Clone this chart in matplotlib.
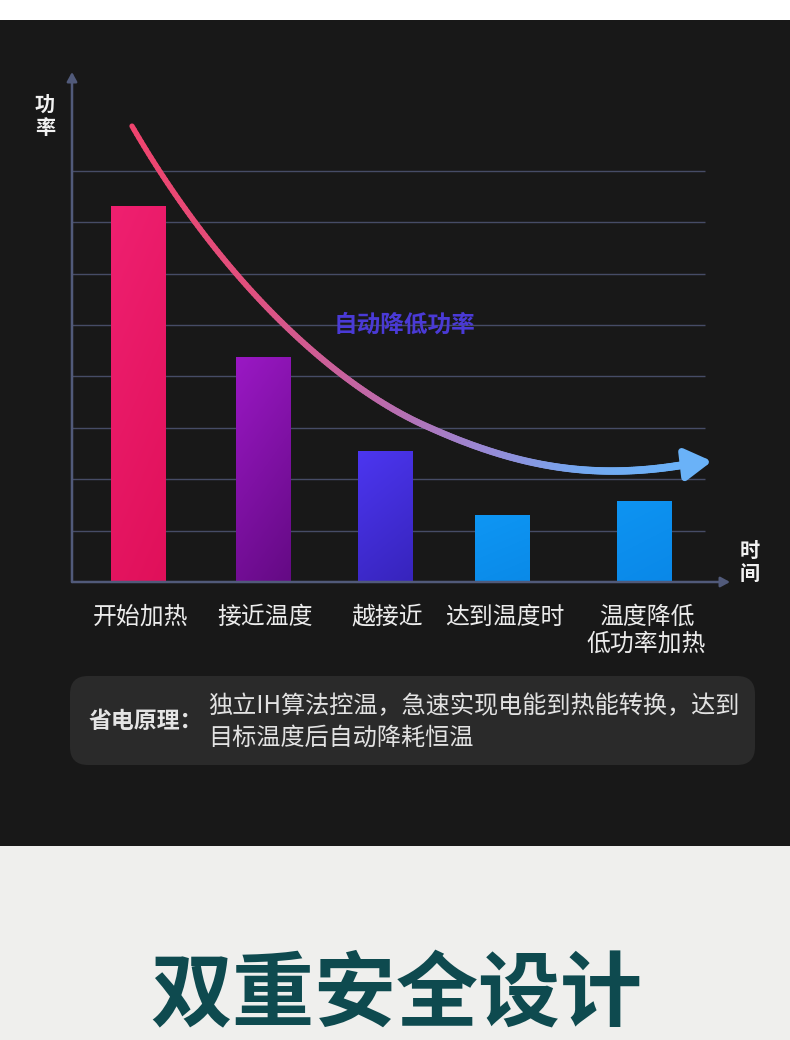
import numpy as np
import matplotlib
matplotlib.use("Agg")
import matplotlib.pyplot as plt
from matplotlib.patches import Rectangle, FancyBboxPatch
from matplotlib.collections import LineCollection
from matplotlib.colors import LinearSegmentedColormap
from matplotlib.bezier import BezierSegment

plt.rcParams['font.family'] = ['Noto Sans CJK SC', 'DejaVu Sans']

# ---------------- data ----------------
categories = ["开始加热", "接近温度", "越接近", "达到温度时", "温度降低\n低功率加热"]
power = [7.32, 4.38, 2.55, 1.30, 1.58]
grid_levels = [1, 2, 3, 4, 5, 6, 7, 8]
# trend curve (decorative annotation): cubic Bezier control points
curve_piece_a = [(60, 8.87), (152, 5.78), (266, 3.77), (358, 3.00)]
curve_piece_b = [(358, 3.00), (450, 2.20), (526, 1.98), (618, 2.30)]
curve_tip = (640, 2.35)
y_label = "功\n率"
x_label = "时\n间"
curve_label = "自动降低功率"
note_title = "省电原理："
note_lines = ["独立IH算法控温，急速实现电能到热能转换，达到", "目标温度后自动降耗恒温"]
banner = "双重安全设计"

# ---------------- layout / style ----------------
W, H = 790, 1040
bar_pos = [66.5, 191.5, 313.5, 430.5, 572.5]
bar_w = 55
ax_left, ax_right, ax_bottom, ax_top = 72, 730, 582, 72
unit_px = 51.4
bar_grads = [("#e0105a", "#ef2070"), ("#640a84", "#9a18c4"), ("#3724bc", "#4c36f0"),
             ("#0a8ae8", "#0e96f4"), ("#0a88e8", "#0e94f2")]
axis_c = "#515a7a"
grid_c = "#464c66"
dark_bg = "#181818"
paper = "#efefed"

fig = plt.figure(figsize=(W / 100, H / 100), dpi=100)
fig.patch.set_facecolor("white")

bg = fig.add_axes([0, 0, 1, 1], zorder=0)
bg.set_xlim(0, W)
bg.set_ylim(H, 0)
bg.axis("off")
bg.add_patch(Rectangle((0, 20), W, 826, color=dark_bg, lw=0))
bg.add_patch(Rectangle((0, 846), W, H - 846, color=paper, lw=0))

# note box
bg.add_patch(FancyBboxPatch((70, 676), 685, 89, boxstyle="round,pad=0,rounding_size=18",
                            fc="#2a2a2a", ec="none"))
bg.text(89, 722, note_title, fontsize=16.5, fontweight="bold", color="#e4e4e4",
        va="center", ha="left")
bg.text(208, 706, note_lines[0], fontsize=17.4, color="#e2e2e2", va="center", ha="left")
bg.text(208, 738, note_lines[1], fontsize=17.4, color="#e2e2e2", va="center", ha="left")

# banner
bg.text(396, 997, banner, fontsize=59, fontweight="black", color="#0e4a4f",
        va="center", ha="center")

# axis labels
bg.text(45, 116, y_label, fontsize=14.5, fontweight="bold", color="#f2f2f2",
        va="center", ha="center", linespacing=1.15)
bg.text(750, 562, x_label, fontsize=14.5, fontweight="bold", color="#f2f2f2",
        va="center", ha="center", linespacing=1.15)

# category labels
for p, lab in zip(bar_pos, categories):
    n = lab.count("\n") + 1
    yc = 617 + (n - 1) * 14
    bg.text(ax_left + p + 2, yc, lab, fontsize=17.2, color="#ececec", va="center",
            ha="center", linespacing=1.2)

# ---------------- chart axes ----------------
ax = fig.add_axes([ax_left / W, 1 - ax_bottom / H, (ax_right - ax_left) / W,
                   (ax_bottom - ax_top) / H], zorder=1)
ax.set_facecolor("none")
ax.set_xlim(0, ax_right - ax_left)
ytop = (ax_bottom - ax_top) / unit_px
ax.set_ylim(0, ytop)
ax.axis("off")

for g in grid_levels:
    ax.plot([0, 633], [g, g], color=grid_c, lw=1.0, zorder=1, solid_capstyle="butt")

# bars with gradients
for p, v, (c0, c1) in zip(bar_pos, power, bar_grads):
    rect = Rectangle((p - bar_w / 2, 0), bar_w, v, fc=c1, ec="none", zorder=2)
    ax.add_patch(rect)
    cmap = LinearSegmentedColormap.from_list("g", [c0, c1])
    yy, xx = np.mgrid[0:1:100j, 0:1:30j]
    grad = 0.75 * yy + 0.25 * (1 - xx)
    im = ax.imshow(grad, cmap=cmap, extent=(p - bar_w / 2, p + bar_w / 2, 0, v),
                   origin="lower", aspect="auto", zorder=2.1, interpolation="bilinear")
    im.set_clip_path(rect)

# axes with arrows
for xy in [(0, ytop), (ax_right - ax_left, 0)]:
    ax.annotate("", xy=xy, xytext=(0, 0),
                arrowprops=dict(arrowstyle="-|>,head_length=0.55,head_width=0.3",
                                mutation_scale=10, lw=1.8, color=axis_c, shrinkA=0, shrinkB=0),
                zorder=3, annotation_clip=False)

# gradient trend curve, drawn from the Bezier pieces by matplotlib's bezier tools
t = np.linspace(0, 1, 120)
pts = np.vstack([BezierSegment(np.array(curve_piece_a, float)).point_at_t(t),
                 BezierSegment(np.array(curve_piece_b, float)).point_at_t(t)[1:]])
segs = np.stack([pts[:-1], pts[1:]], axis=1)
ccmap = LinearSegmentedColormap.from_list("c", ["#f0446e", "#e0507e", "#c068a8",
                                                "#9a88d4", "#74a8f0", "#6ab2f8"])
tvals = np.linspace(0, 1, len(segs))
lws = np.linspace(3.8, 5.6, len(segs))
lc = LineCollection(segs, colors=ccmap(tvals), linewidths=lws, capstyle="round",
                    joinstyle="round", zorder=4)
ax.add_collection(lc)
ax.annotate("", xy=curve_tip, xytext=curve_piece_b[-1],
            arrowprops=dict(arrowstyle="-|>,head_length=1.6,head_width=0.95",
                            mutation_scale=10, lw=5, color="#6ab2f8", shrinkA=0, shrinkB=0),
            zorder=4, annotation_clip=False)

ax.text(404 - ax_left, (ax_bottom - 325) / unit_px, curve_label, fontsize=17,
        fontweight="bold", color="#4a3ad6", ha="center", va="center", zorder=5)

fig.savefig("out.png", dpi=100, facecolor=fig.get_facecolor())
